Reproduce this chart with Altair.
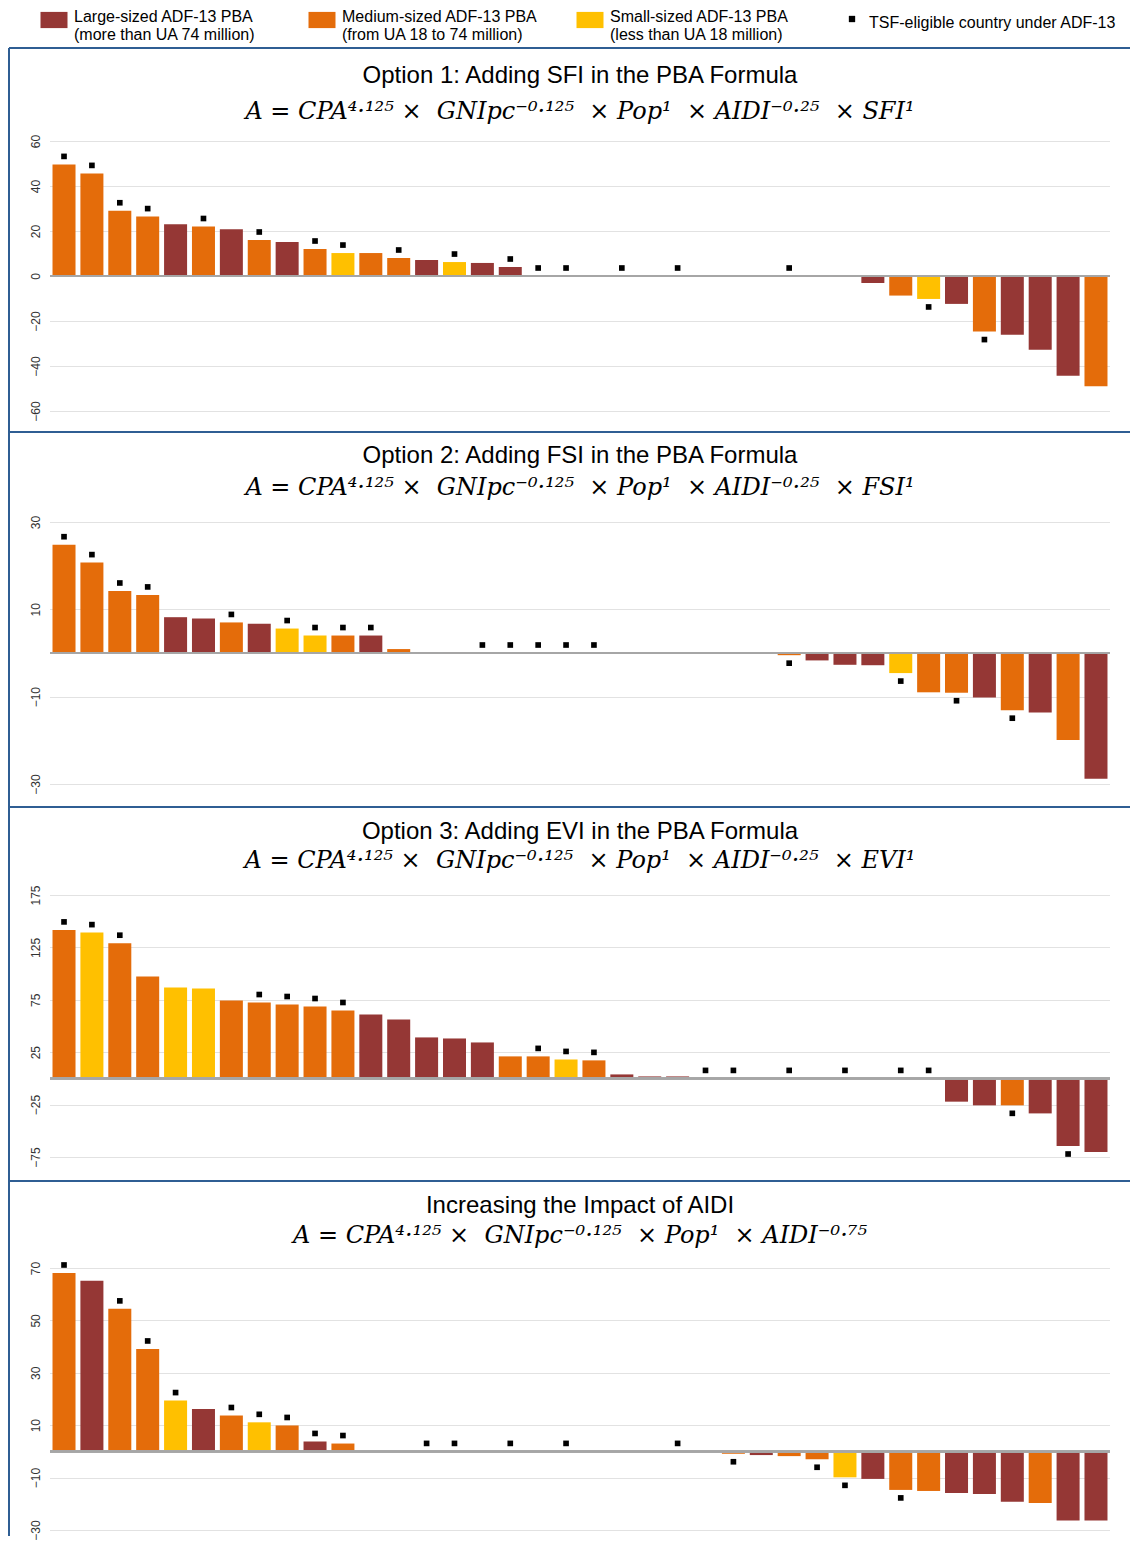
import altair as alt
import pandas as pd

# ---------------- data ----------------
countries = list(range(38))

sfi_values = [49.6, 45.6, 29.0, 26.4, 23.0, 22.0, 20.8, 16.0, 15.1, 12.0, 10.2, 10.2, 8.0, 7.1, 6.2, 5.8, 4.0,
              0, 0, 0, 0, 0, 0, 0, 0, 0, 0, -0.3, -0.3,
              -3.1, -8.7, -10.2, -12.4, -24.7, -26.1, -32.8, -44.3, -49.0]
sfi_size = list("MMMMLMLMLMSMMLSLL" + "LLLLLLLLLLLL" + "LMSLMLLLM")
sfi_tsf = [0, 1, 2, 3, 5, 7, 9, 10, 12, 14, 16, 17, 18, 20, 22, 26, 31, 33]

fsi_values = [24.8, 20.7, 14.2, 13.3, 8.2, 7.9, 7.0, 6.7, 5.6, 4.0, 4.0, 4.0, 0.9, 0.15, 0.15,
              0, 0, 0, 0, 0, 0, 0, 0, 0, 0,
              -0.2, -0.5, -1.7, -2.7, -2.8, -4.6, -9.0, -9.1, -10.2, -13.1, -13.6, -19.9, -28.8]
fsi_size = list("MMMMLLMLSSMLMLL" + "LLLLLLLLLL" + "LMLLLSMMLMLML")
fsi_tsf = [0, 1, 2, 3, 6, 8, 9, 10, 11, 15, 16, 17, 18, 19, 26, 30, 32, 34]

evi_values = [141.7, 139.1, 129.0, 97.2, 86.7, 85.8, 74.3, 72.4, 70.5, 68.6, 64.8, 61.0, 56.2, 39.1, 38.1, 34.3,
              21.0, 21.0, 18.1, 17.2, 3.8, 1.9, 1.9,
              0, 0, 0, 0, 0, 0, 0, 0, 0,
              -22.2, -25.7, -25.7, -33.4, -64.5, -70.2]
evi_size = list("MSMMSSMMMMMLLLLLMMSM" + "LLLLLLLLLLLLLL" + "MLLL")
evi_tsf = [0, 1, 2, 7, 8, 9, 10, 17, 18, 19, 23, 24, 26, 28, 30, 31, 34, 36]

aidi_values = [68.1, 65.1, 54.4, 39.1, 19.4, 16.2, 13.7, 11.1, 9.9, 3.8, 3.0, 0.15,
               0, 0, 0, 0, 0, 0, 0, 0, 0, 0, 0, 0,
               -0.9, -1.4, -1.8, -3.0, -9.9, -10.5, -14.7, -15.1, -15.9, -16.3, -19.2, -19.7, -26.4, -26.4]
aidi_size = list("MLMMSLMSMLM" + "LLLLLLLLLLLLL" + "MLMMSLMMLLLMLL")
aidi_tsf = [0, 2, 3, 4, 6, 7, 8, 9, 10, 13, 14, 16, 18, 22, 24, 27, 28, 30]

titles = ["Option 1: Adding SFI in the PBA Formula",
          "Option 2: Adding FSI in the PBA Formula",
          "Option 3: Adding EVI in the PBA Formula",
          "Increasing the Impact of AIDI"]
NB = "\u00a0"
formulas = [f"A = CPA⁴·¹²⁵ ×{NB} GNIpc⁻⁰·¹²⁵{NB} × Pop¹{NB} × AIDI⁻⁰·²⁵{NB} × SFI¹",
            f"A = CPA⁴·¹²⁵ ×{NB} GNIpc⁻⁰·¹²⁵{NB} × Pop¹{NB} × AIDI⁻⁰·²⁵{NB} × FSI¹",
            f"A = CPA⁴·¹²⁵ ×{NB} GNIpc⁻⁰·¹²⁵{NB} × Pop¹{NB} × AIDI⁻⁰·²⁵{NB} × EVI¹",
            f"A = CPA⁴·¹²⁵ ×{NB} GNIpc⁻⁰·¹²⁵{NB} × Pop¹{NB} × AIDI⁻⁰·⁷⁵"]
domains = [[-60, 60], [-30, 30], [-75, 175], [-30, 70]]
tick_values = [[-60, -40, -20, 0, 20, 40, 60], [-30, -10, 10, 30],
               [-75, -25, 25, 75, 125, 175], [-30, -10, 10, 30, 50, 70]]

legend_items = ["Large-sized ADF-13 PBA\n(more than UA 74 million)",
                "Medium-sized ADF-13 PBA\n(from UA 18 to 74 million)",
                "Small-sized ADF-13 PBA\n(less than UA 18 million)",
                "TSF-eligible country under ADF-13"]
legend_kinds = ["L", "M", "S", "T"]

# ---------------- style ----------------
RED, ORANGE, YELLOW = "#953735", "#E46C0A", "#FFC000"
BLUE = "#2F5E93"
SPACING = 111
LEGEND_H = 22
HEIGHTS = [270, 262, 262, 262]
TOP_GAPS = [93, 90, 88, 87]
TITLE_OFFSETS = [10, 15, 12, 13]
SUB_PADS = [12, 8, 5, 6]
WIDTH = 1060

color_scale = alt.Scale(domain=["L", "M", "S"], range=[RED, ORANGE, YELLOW])
one = alt.Chart(pd.DataFrame({"k": [0]}))


def panel(k, values, sizes, tsf_idx):
    h = HEIGHTS[k]
    df = pd.DataFrame({
        "country": countries,
        "value": values,
        "size": sizes,
        "tsf": [1 if i in tsf_idx else 0 for i in countries],
    })
    base = alt.Chart(df)
    x = alt.X("country:O", axis=None,
              scale=alt.Scale(paddingInner=0.175, paddingOuter=0.09))
    y = alt.Y("value:Q",
              scale=alt.Scale(domain=domains[k], nice=False, zero=False),
              axis=alt.Axis(values=tick_values[k], title=None, grid=True,
                            gridDash=[1, 1], gridColor="#c4c4c4", gridWidth=1,
                            domain=False, ticks=False, labelAngle=-90,
                            labelAlign="center", labelBaseline="bottom",
                            labelPadding=8, labelFontSize=12, labelColor="#333333",
                            labelFont="Liberation Sans"))
    bars = base.mark_bar().encode(
        x=x, y=y, color=alt.Color("size:N", scale=color_scale, legend=None))
    zero = base.mark_rule(color="#a6a6a6", strokeWidth=1.5).encode(y=alt.datum(0))
    up = base.transform_filter("datum.tsf == 1 && datum.value >= 0").mark_square(
        size=32, color="black", opacity=1, yOffset=-8).encode(x=x, y=y)
    down = base.transform_filter("datum.tsf == 1 && datum.value < 0").mark_square(
        size=32, color="black", opacity=1, yOffset=8).encode(x=x, y=y)

    layers = [bars, zero, up, down]
    if k < 3:
        sep_y = h + SPACING - TOP_GAPS[k + 1]
        layers.append(one.mark_rule(color=BLUE, strokeWidth=2).encode(
            x=alt.value(-41), x2=alt.value(1080), y=alt.value(sep_y)))
        left_end = h + SPACING
    else:
        left_end = h + 6
    layers.append(one.mark_rule(color=BLUE, strokeWidth=2).encode(
        x=alt.value(-41), y=alt.value(0), y2=alt.value(left_end)))

    return alt.layer(*layers).properties(
        width=WIDTH, height=h,
        title=alt.Title(titles[k], subtitle=formulas[k], anchor="middle", frame="group",
                        font="Liberation Sans", fontSize=24, fontWeight="normal",
                        color="black", subtitleFont="DejaVu Serif",
                        subtitleFontStyle="italic", subtitleFontSize=24,
                        subtitleColor="black", subtitlePadding=SUB_PADS[k],
                        offset=TITLE_OFFSETS[k]))


# ---------------- legend ----------------
leg_df = pd.DataFrame({"item": [0, 1, 2, 3], "label": legend_items, "kind": legend_kinds})
leg_base = alt.Chart(leg_df)
lx = alt.X("item:O", axis=None, scale=alt.Scale(type="point", range=[4, 808], padding=0))
swatch = leg_base.transform_filter("datum.kind != 'T'").mark_point(
    shape="M-1,-0.6L1,-0.6L1,0.6L-1,0.6Z", filled=True, size=729, opacity=1).encode(
    x=lx, y=alt.value(12), color=alt.Color("kind:N", scale=color_scale, legend=None))
tsf_mark = leg_base.transform_filter("datum.kind == 'T'").mark_square(
    size=40, color="black", opacity=1, xOffset=-6).encode(x=lx, y=alt.value(11))
leg_text = leg_base.transform_filter("datum.kind != 'T'").mark_text(
    align="left", baseline="middle", dx=20, lineBreak="\n", lineHeight=18,
    font="Liberation Sans", fontSize=16, color="black").encode(
    x=lx, y=alt.value(9), text="label:N")
tsf_text = leg_base.transform_filter("datum.kind == 'T'").mark_text(
    align="left", baseline="middle", dx=11,
    font="Liberation Sans", fontSize=16, color="black").encode(
    x=lx, y=alt.value(15), text="label:N")
leg_top = one.mark_rule(color=BLUE, strokeWidth=2).encode(
    x=alt.value(-41), x2=alt.value(1080), y=alt.value(40))
leg_left = one.mark_rule(color=BLUE, strokeWidth=2).encode(
    x=alt.value(-41), y=alt.value(40), y2=alt.value(LEGEND_H + SPACING))
legend = alt.layer(swatch, tsf_mark, leg_text, tsf_text, leg_top, leg_left).properties(
    width=WIDTH, height=LEGEND_H)

chart = alt.vconcat(
    legend,
    panel(0, sfi_values, sfi_size, sfi_tsf),
    panel(1, fsi_values, fsi_size, fsi_tsf),
    panel(2, evi_values, evi_size, evi_tsf),
    panel(3, aidi_values, aidi_size, aidi_tsf),
    spacing=SPACING, bounds="flush",
).resolve_scale(y="independent", x="independent", color="shared").properties(
    padding=0
).configure_view(stroke=None)

chart.save("out.html", embed_options={"renderer": "svg", "actions": False})
